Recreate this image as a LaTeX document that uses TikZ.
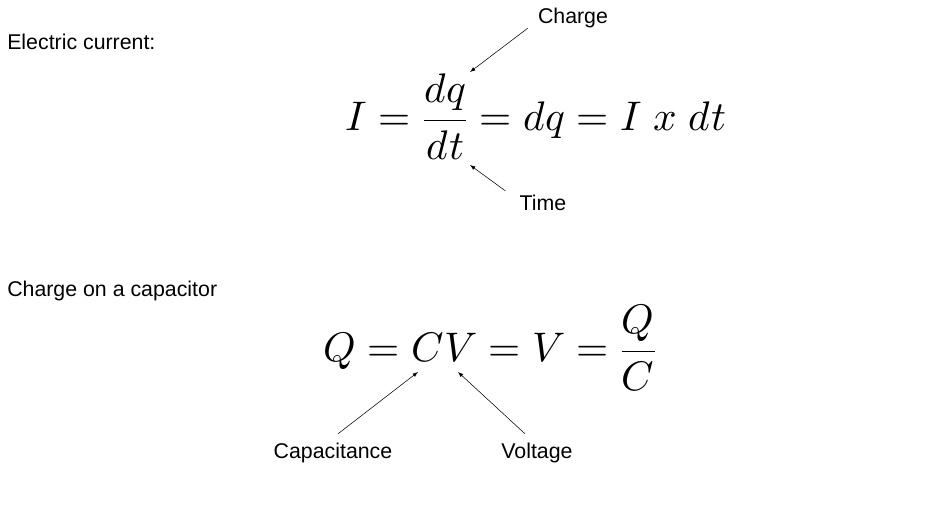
\documentclass[tikz,border=0pt]{standalone}
\usepackage{fontspec}
\setmainfont{Liberation Sans}
\usepackage{unicode-math}
\setmathfont{Latin Modern Math}
\begin{document}
\begin{tikzpicture}[x=0.75pt,y=-0.75pt,
  lbl/.style={font=\fontsize{16}{19}\selectfont, inner sep=0pt},
  eq/.style={font=\fontsize{31}{37}\selectfont, inner sep=0pt},
  ptr/.style={-latex, thin}]
\useasboundingbox (0,0) rectangle (936,518);
\node[lbl, anchor=west] (t1) at (7,42) {Electric current:};
\node[lbl, anchor=west] (t2) at (7,291) {Charge on a capacitor};
\node[eq] (e1) at (536,117) {$I=\dfrac{dq}{dt}=dq=I\;x\;dt$};
\node[eq] (e2) at (490,348) {$Q=CV=V=\dfrac{Q}{C}$};
\node[lbl] (charge) at (573,18) {Charge};
\node[lbl] (time) at (543,203) {Time};
\node[lbl] (cap) at (333,453) {Capacitance};
\node[lbl] (volt) at (537,453) {Voltage};
\coordinate (pq) at (470,72);
\coordinate (pt) at (470,165);
\coordinate (pc) at (418,372);
\coordinate (pv) at (458,372);
\draw[ptr] (charge.south west) ++(-10,0) coordinate (c0) -- (pq);
\draw[ptr] (time.north west) ++(-14,-4) coordinate (t0) -- (pt);
\draw[ptr] (cap.north) ++(5,-9) coordinate (a0) -- (pc);
\draw[ptr] (volt.north) ++(-12,-9) coordinate (v0) -- (pv);
\end{tikzpicture}
\end{document}
